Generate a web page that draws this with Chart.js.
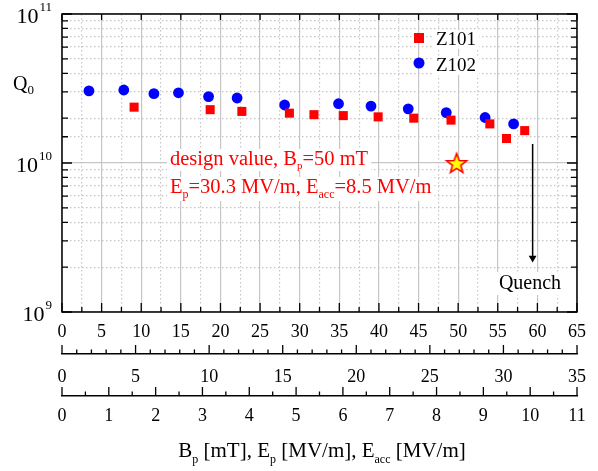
<!DOCTYPE html>
<html>
<head>
<meta charset="utf-8">
<script src="https://cdn.jsdelivr.net/npm/chart.js"></script>
<style>
  html, body { margin: 0; padding: 0; background: #fff; }
</style>
</head>
<body>
<canvas id="qChart" width="598" height="471"></canvas>
<script>
// Z101 cavity: Bp [mT] and Q0
const z101Bp = [9.1, 18.7, 22.7, 28.7, 31.8, 35.5, 39.9, 44.4, 49.1, 54.0, 56.1, 58.4];
const z101Q = [2.37e10, 2.28e10, 2.22e10, 2.16e10, 2.11e10, 2.08e10, 2.04e10, 2.00e10, 1.94e10, 1.83e10, 1.46e10, 1.65e10];

// Z102 cavity
const z102Bp = [3.4, 7.8, 11.6, 14.7, 18.5, 22.1, 28.1, 34.9, 39.0, 43.7, 48.5, 53.4, 57.0];
const z102Q = [3.05e10, 3.09e10, 2.92e10, 2.96e10, 2.79e10, 2.73e10, 2.45e10, 2.50e10, 2.41e10, 2.31e10, 2.18e10, 2.02e10, 1.83e10];

// design point and quench arrow
const designBp = [49.8];
const designQ = [1e10];
const quenchBp = [59.4, 59.4];
const quenchQ = [1.34e10, 2.3e9];

// axis tick labels
const bpTicks = [0, 5, 10, 15, 20, 25, 30, 35, 40, 45, 50, 55, 60, 65];
const epTicks = [0, 5, 10, 15, 20, 25, 30, 35];
const eaccTicks = [0, 1, 2, 3, 4, 5, 6, 7, 8, 9, 10, 11];
const qTicks = [1e9, 1e10, 1e11];

const serif = "'Liberation Serif', 'Times New Roman', serif";
const gridColor = '#c6c6c6';

// filled star used as point style for the design value
const starImg = document.createElement('canvas');
starImg.width = 26;
starImg.height = 26;
const sctx = starImg.getContext('2d');
sctx.beginPath();
for (let i = 0; i < 10; i++) {
  const r = i % 2 ? 4.4 : 10.5;
  const a = -Math.PI / 2 + i * Math.PI / 5;
  const px = 13 + r * Math.cos(a);
  const py = 14 + r * Math.sin(a);
  if (i === 0) sctx.moveTo(px, py); else sctx.lineTo(px, py);
}
sctx.closePath();
sctx.fillStyle = '#ffff00';
sctx.fill();
sctx.strokeStyle = '#ff0000';
sctx.lineWidth = 1.6;
sctx.stroke();

const isDecade = v => Math.abs(Math.log10(v) - Math.round(Math.log10(v))) < 1e-6;

// write text made of pieces with different sizes / offsets (sub- and superscripts)
function richText(ctx, parts, x, y, color, align, box) {
  let w = 0;
  parts.forEach(p => {
    ctx.font = p[1] + 'px ' + serif;
    w += ctx.measureText(p[0]).width;
  });
  let cx = align === 'center' ? x - w / 2 : align === 'right' ? x - w : x;
  if (box) {
    ctx.fillStyle = '#fff';
    ctx.fillRect(cx - 3, y - box[0], w + 6, box[0] + box[1]);
  }
  ctx.fillStyle = color;
  ctx.textAlign = 'left';
  ctx.textBaseline = 'alphabetic';
  parts.forEach(p => {
    ctx.font = p[1] + 'px ' + serif;
    ctx.fillText(p[0], cx, y + p[2]);
    cx += ctx.measureText(p[0]).width;
  });
}

const decorations = {
  id: 'decorations',
  beforeDatasetsDraw(chart) {
    const ctx = chart.ctx;
    const area = chart.chartArea;
    const xs = chart.scales.x;
    const ys = chart.scales.y;
    ctx.save();

    // frame of the plot
    ctx.strokeStyle = '#000';
    ctx.lineWidth = 1.5;
    ctx.strokeRect(area.left, area.top, area.right - area.left, area.bottom - area.top);

    // inward ticks on the main plot
    ctx.lineWidth = 1.3;
    ctx.beginPath();
    xs.ticks.forEach(t => {
      const px = xs.getPixelForValue(t.value);
      const major = t.value % 5 === 0;
      ctx.moveTo(px, area.bottom);
      ctx.lineTo(px, area.bottom - (major ? 9 : 5));
      if (major) {
        ctx.moveTo(px, area.top);
        ctx.lineTo(px, area.top + 6);
      }
    });
    ys.ticks.forEach(t => {
      const py = ys.getPixelForValue(t.value);
      const len = isDecade(t.value) ? 10 : 6;
      ctx.moveTo(area.left, py);
      ctx.lineTo(area.left + len, py);
      ctx.moveTo(area.right, py);
      ctx.lineTo(area.right - len, py);
    });
    ctx.stroke();

    // upward ticks on the two extra scales
    ['x2', 'x3'].forEach(id => {
      const s = chart.scales[id];
      ctx.beginPath();
      s.ticks.forEach(t => {
        const px = s.getPixelForValue(t.value);
        ctx.moveTo(px, s.top);
        ctx.lineTo(px, s.top - (t.label !== '' ? 9 : 4.5));
      });
      ctx.stroke();
    });

    // y labels as powers of ten
    qTicks.forEach(v => {
      const py = ys.getPixelForValue(v);
      const exp = String(Math.round(Math.log10(v)));
      ctx.font = '13px ' + serif;
      const ew = ctx.measureText(exp).width;
      richText(ctx, [['10', 22, 0]], area.left - 10 - ew - 1, py + 8.5, '#000', 'right');
      richText(ctx, [[exp, 13, 0]], area.left - 10 - ew, py - 3, '#000', 'left');
    });

    // axis titles
    richText(ctx, [['Q', 20, 0], ['0', 13, 4]], 13, 90, '#000', 'left');
    richText(ctx, [['B', 21, 0], ['p', 12, 6], [' [mT], E', 21, 0], ['p', 12, 6],
      [' [MV/m], E', 21, 0], ['acc', 12, 6], [' [MV/m]', 21, 0]], 322, 457, '#000', 'center');

    // legend
    ctx.fillStyle = '#ff0000';
    ctx.fillRect(414, 33, 10, 10);
    ctx.fillStyle = '#0000ff';
    ctx.beginPath();
    ctx.arc(419, 63, 5.5, 0, Math.PI * 2);
    ctx.fill();
    richText(ctx, [['Z101', 19, 0]], 436, 45, '#000', 'left', [15, 4]);
    richText(ctx, [['Z102', 19, 0]], 436, 71, '#000', 'left', [15, 4]);

    // design value note
    richText(ctx, [['design value, B', 20.5, 0], ['p', 11, 4], ['=50 mT', 20.5, 0]],
      170, 165, '#ff0000', 'left', [16, 6]);
    richText(ctx, [['E', 20.5, 0], ['p', 12, 5], ['=30.3 MV/m, E', 20.5, 0], ['acc', 12, 5], ['=8.5 MV/m', 20.5, 0]],
      170, 193, '#ff0000', 'left', [16, 8]);

    // quench label
    richText(ctx, [['Quench', 20, 0]], 530, 289, '#000', 'center', [17, 6]);

    ctx.restore();
  }
};

const ctx = document.getElementById('qChart');

const qChart = new Chart(ctx, {
  type: 'scatter',
  data: {
    datasets: [
      {
        label: 'Z101',
        data: z101Bp.map((b, i) => ({ x: b, y: z101Q[i] })),
        pointStyle: 'rect',
        pointRadius: 6.4,
        backgroundColor: '#ff0000',
        borderWidth: 0
      },
      {
        label: 'Z102',
        data: z102Bp.map((b, i) => ({ x: b, y: z102Q[i] })),
        pointStyle: 'circle',
        pointRadius: 5.4,
        backgroundColor: '#0000ff',
        borderWidth: 0
      },
      {
        label: 'design',
        data: designBp.map((b, i) => ({ x: b, y: designQ[i] })),
        pointStyle: starImg
      },
      {
        label: 'quench',
        data: quenchBp.map((b, i) => ({ x: b, y: quenchQ[i] })),
        showLine: true,
        borderColor: '#000',
        borderWidth: 1.5,
        pointStyle: 'triangle',
        pointRotation: 180,
        pointRadius: [0, 4.5],
        pointBackgroundColor: '#000',
        pointBorderWidth: 0
      }
    ]
  },
  options: {
    responsive: false,
    animation: false,
    events: [],
    layout: { autoPadding: false, padding: { left: 0, right: 19, top: 14, bottom: 0 } },
    plugins: { legend: { display: false }, tooltip: { enabled: false } },
    scales: {
      x: {
        type: 'linear',
        position: 'bottom',
        min: 0,
        max: 65,
        afterFit: s => { s.height = 42; },
        ticks: {
          stepSize: 2.5,
          autoSkip: false,
          maxRotation: 0,
          padding: 9,
          color: '#000',
          font: { family: serif, size: 18 },
          callback: v => bpTicks.includes(v) ? String(v) : ''
        },
        grid: { color: gridColor, lineWidth: 1.2, drawTicks: false },
        border: { display: false, dash: c => (c.tick && c.tick.value % 5 !== 0) ? [1.5, 2.5] : [] }
      },
      y: {
        type: 'logarithmic',
        min: 1e9,
        max: 1e11,
        afterFit: s => { s.width = 62; },
        ticks: { autoSkip: false, callback: () => '' },
        grid: { color: gridColor, lineWidth: 1.2, drawTicks: false },
        border: { display: false, dash: c => (c.tick && !isDecade(c.tick.value)) ? [1.5, 2.5] : [] }
      },
      x2: {
        type: 'linear',
        position: 'bottom',
        min: 0,
        max: 35,
        afterFit: s => { s.height = 42; },
        ticks: {
          stepSize: 1,
          autoSkip: false,
          maxRotation: 0,
          padding: 12,
          color: '#000',
          font: { family: serif, size: 18 },
          callback: v => epTicks.includes(v) ? String(v) : ''
        },
        grid: { drawOnChartArea: false, drawTicks: false },
        border: { display: true, color: '#000', width: 1.5 }
      },
      x3: {
        type: 'linear',
        position: 'bottom',
        min: 0,
        max: 11,
        afterFit: s => { s.height = 75; },
        ticks: {
          stepSize: 0.5,
          autoSkip: false,
          maxRotation: 0,
          padding: 9,
          color: '#000',
          font: { family: serif, size: 18 },
          callback: v => eaccTicks.includes(v) ? String(v) : ''
        },
        grid: { drawOnChartArea: false, drawTicks: false },
        border: { display: true, color: '#000', width: 1.5 }
      }
    }
  },
  plugins: [decorations]
});
</script>
</body>
</html>
